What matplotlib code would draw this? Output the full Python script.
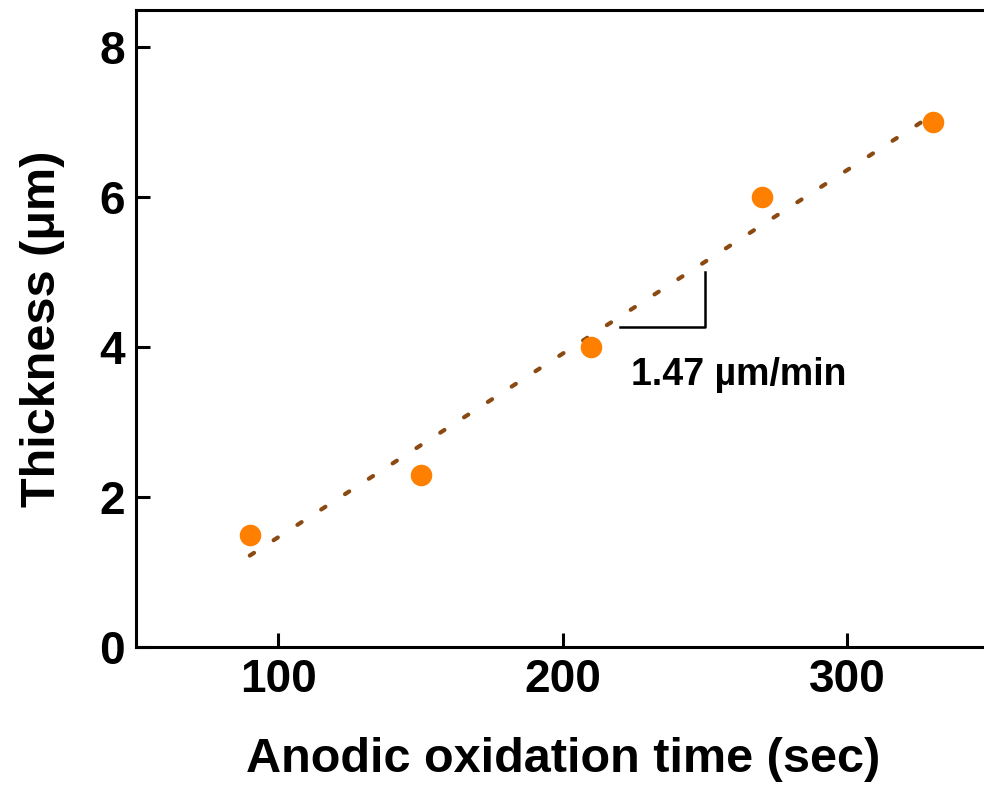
import numpy as np
import matplotlib
matplotlib.use("Agg")
import matplotlib.pyplot as plt

plt.rcParams['font.family'] = ['Liberation Sans', 'DejaVu Sans']
plt.rcParams['font.weight'] = 'bold'

time_sec = [90, 150, 210, 270, 330]
thickness_um = [1.5, 2.3, 4.0, 6.0, 7.0]
x_ticks = [100, 200, 300]
y_ticks = [0, 2, 4, 6, 8]
slope_label = "1.47 µm/min"

fig = plt.figure(figsize=(9.84, 7.89), dpi=100)
ax = fig.add_axes([136/984, 1-647/789, (989.5-136)/984, (647-10)/789])

# linear fit
coef = np.polyfit(time_sec, thickness_um, 1)
xf = np.array([time_sec[0], time_sec[-1]])
yf = np.polyval(coef, xf)
ax.plot(xf, yf, color='#8B4A12', lw=3.0, linestyle=(0, (1.2, 5.6)),
        dash_capstyle='round', zorder=2)

ax.plot(time_sec, thickness_um, 'o', color='#FF8000', ms=14.5, mec='#FF8000', zorder=3)

# slope triangle
ax.plot([220, 250, 250], [4.27, 4.27, 5.0], color='black', lw=1.8, zorder=2)
ax.text(224, 3.63, slope_label, fontsize=27, fontweight='bold', va='center', ha='left')

ax.set_xlim(50, 350)
ax.set_ylim(0, 8.5)
ax.set_xticks(x_ticks)
ax.set_yticks(y_ticks)
ax.tick_params(direction='in', length=10, width=2.2, labelsize=33, pad=8)
for lab in ax.get_xticklabels() + ax.get_yticklabels():
    lab.set_fontweight('bold')
for sp in ax.spines.values():
    sp.set_linewidth(2.2)

ax.set_xlabel("Anodic oxidation time (sec)", fontsize=35, fontweight='bold', labelpad=25)
ax.set_ylabel("Thickness (μm)", fontsize=35, fontweight='bold', labelpad=25)

fig.savefig("out.png", dpi=100)
